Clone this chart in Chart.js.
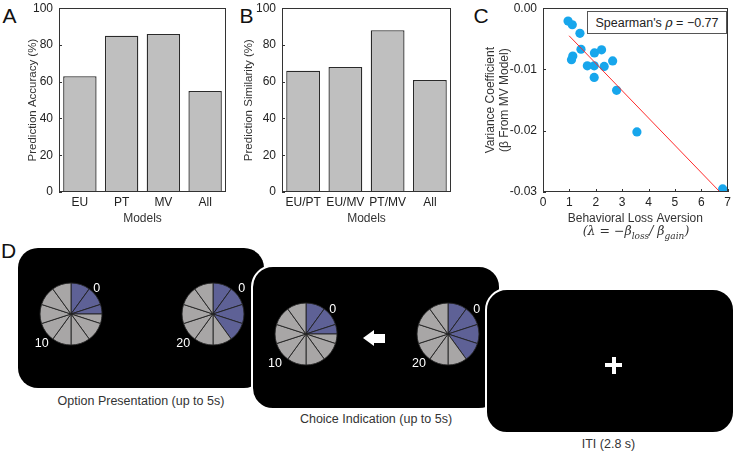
<!DOCTYPE html>
<html>
<head>
<meta charset="utf-8">
<script src="https://cdn.jsdelivr.net/npm/chart.js@4"></script>
<style>
  html, body { margin: 0; padding: 0; }
  body { width: 734px; height: 451px; overflow: hidden; position: relative; background: #fff;
         font-family: "Liberation Sans", Arial, sans-serif; }
  canvas { position: absolute; }
  .t { position: absolute; transform: translate(-50%, -50%); line-height: 1; white-space: nowrap; }
  .box { position: absolute; background: #000; box-sizing: border-box; }
</style>
</head>
<body>

<!-- Panel letters -->
<div class="t" style="left:9.5px;top:14.5px;font-size:21px;color:#111">A</div>
<div class="t" style="left:246.5px;top:14.5px;font-size:21px;color:#111">B</div>
<div class="t" style="left:481px;top:15px;font-size:21px;color:#111">C</div>
<div class="t" style="left:8.5px;top:250px;font-size:21px;color:#111">D</div>

<canvas id="cA" width="240" height="235" style="left:0;top:-5px"></canvas>
<canvas id="cB" width="260" height="235" style="left:238px;top:-5px"></canvas>
<canvas id="cC" width="258" height="235" style="left:476px;top:-5px"></canvas>

<div class="t" style="left:636px;top:233px;font-size:12.5px;color:#333;font-family:'DejaVu Serif','Liberation Serif',serif;font-style:italic">(λ = −β<sub style="font-size:9px">loss</sub>/ β<sub style="font-size:9px">gain</sub>)</div>

<div style="position:absolute;left:587px;top:11px;width:140px;height:23px;box-sizing:border-box;border:1px solid #555;background:#fff;font-size:12.5px;color:#222;text-align:center;line-height:21px;white-space:nowrap">Spearman's <i style="font-family:'DejaVu Serif','Liberation Serif',serif">ρ</i> = −0.77</div>

<!-- Panel D boxes -->
<div class="box" style="left:18px;top:248px;width:246px;height:140px;border-radius:20px"></div>
<div class="box" style="left:251px;top:265px;width:250px;height:145px;border-radius:22px;border:2px solid #fff"></div>
<div class="box" style="left:485px;top:288px;width:250px;height:146px;border-radius:22px;border:2px solid #fff"></div>

<canvas id="p1" width="64" height="64" style="left:38.7px;top:282px"></canvas>
<canvas id="p2" width="64" height="64" style="left:181.3px;top:282px"></canvas>
<canvas id="p3" width="64" height="64" style="left:274px;top:302.3px"></canvas>
<canvas id="p4" width="64" height="64" style="left:416.3px;top:302.3px"></canvas>

<div class="t" style="left:96.7px;top:288.3px;font-size:12.5px;color:#fff">0</div>
<div class="t" style="left:241.7px;top:288.3px;font-size:12.5px;color:#fff">0</div>
<div class="t" style="left:41.7px;top:343.3px;font-size:12.5px;color:#fff">10</div>
<div class="t" style="left:183.3px;top:343.3px;font-size:12.5px;color:#fff">20</div>
<div class="t" style="left:332.7px;top:309px;font-size:12.5px;color:#fff">0</div>
<div class="t" style="left:476.7px;top:309px;font-size:12.5px;color:#fff">0</div>
<div class="t" style="left:275px;top:363.3px;font-size:12.5px;color:#fff">10</div>
<div class="t" style="left:419px;top:363.3px;font-size:12.5px;color:#fff">20</div>

<!-- arrow -->
<div style="position:absolute;left:363px;top:330px;width:0;height:0;border-top:8.5px solid transparent;border-bottom:8.5px solid transparent;border-right:11px solid #fff"></div>
<div style="position:absolute;left:373px;top:334px;width:12px;height:9px;background:#fff"></div>
<!-- fixation cross -->
<div style="position:absolute;left:605px;top:363px;width:17px;height:4px;background:#fff"></div>
<div style="position:absolute;left:611.5px;top:356.5px;width:4px;height:17px;background:#fff"></div>

<div class="t" style="left:141px;top:401px;font-size:12.5px;color:#333">Option Presentation (up to 5s)</div>
<div class="t" style="left:376px;top:419px;font-size:12.5px;color:#333">Choice Indication (up to 5s)</div>
<div class="t" style="left:608.5px;top:444px;font-size:12.5px;color:#333">ITI (2.8 s)</div>

<script>
// ---------------- DATA ----------------
const accuracyModels = ['EU', 'PT', 'MV', 'All'];
const accuracyValues = [63, 85, 86, 55];

const similarityPairs = ['EU/PT', 'EU/MV', 'PT/MV', 'All'];
const similarityValues = [66, 68, 88, 61];

const percentTicks = [0, 20, 40, 60, 80, 100];

const lossAversion = [0.95, 1.11, 1.40, 1.44, 1.13, 1.08, 1.68, 1.95, 2.22, 1.94, 2.32, 2.64, 1.94, 2.79, 3.56, 6.81];
const varianceCoef = [-0.0021, -0.0027, -0.0041, -0.0067, -0.0078, -0.0084, -0.0094, -0.0073, -0.0068, -0.0094, -0.0095, -0.0086, -0.0113, -0.0134, -0.0202, -0.0295];

const fitLineX = [0.99, 6.71];
const fitLineY = [-0.0045, -0.0300];

// Pie stimuli: slice sizes (degrees) and number of leading slices for the "0" outcome
const pieLeftSlices = [36, 36, 18, 18, 36, 36, 36, 36, 36, 36, 36];
const pieLeftZeroSlices = 3;
const pieRightSlices = [36, 36, 36, 36, 36, 36, 36, 36, 36, 36];
const pieRightZeroSlices = 4;

// ---------------- STYLE ----------------
Chart.defaults.font.family = '"Liberation Sans", Arial, sans-serif';
Chart.defaults.font.size = 12;
Chart.defaults.color = '#333';
Chart.defaults.animation = false;

const AXIS = '#333';
const BAR_FILL = '#bfbfbf';
const BAR_EDGE = '#2a2a2a';

const framePlugin = {
  id: 'frame',
  afterDraw(chart, args, opts) {
    const {ctx, chartArea: a} = chart;
    ctx.save();
    ctx.strokeStyle = AXIS;
    ctx.lineWidth = 1;
    ctx.strokeRect(Math.round(a.left) + 0.5, Math.round(a.top) + 0.5,
                   Math.round(a.right - a.left) - 1, Math.round(a.bottom - a.top) - 1);
    // inside tick marks
    const L = 3;
    const y = chart.scales.y;
    ctx.beginPath();
    y.ticks.forEach(t => {
      const py = Math.round(y.getPixelForValue(t.value)) + 0.5;
      ctx.moveTo(a.left, py); ctx.lineTo(a.left + L, py);
    });
    if (opts && opts.xTicks) {
      const x = chart.scales.x;
      x.ticks.forEach(t => {
        const px = Math.round(x.getPixelForValue(t.value)) + 0.5;
        ctx.moveTo(px, a.bottom); ctx.lineTo(px, a.bottom - L);
      });
    }
    ctx.stroke();
    ctx.restore();
  }
};

function barChart(id, labels, values, yTitle, pad, yWidth) {
  return new Chart(document.getElementById(id), {
    type: 'bar',
    data: {
      labels: labels,
      datasets: [{
        data: values,
        backgroundColor: BAR_FILL,
        borderColor: BAR_EDGE,
        borderWidth: 1.3,
        barPercentage: 0.8,
        categoryPercentage: 1.0
      }]
    },
    options: {
      responsive: false,
      animation: false,
      layout: { padding: pad },
      plugins: { legend: { display: false }, tooltip: { enabled: false }, frame: {} },
      scales: {
        x: {
          grid: { display: false, drawTicks: false },
          border: { display: false },
          ticks: { padding: 3, maxRotation: 0, autoSkip: false, color: '#222' },
          title: { display: true, text: 'Models', color: '#333', padding: { top: 4, bottom: 4 } },
          afterFit: s => { s.height = 38; }
        },
        y: {
          min: 0, max: 100,
          afterBuildTicks: s => { s.ticks = percentTicks.map(v => ({ value: v })); },
          grid: { display: false, drawTicks: false },
          border: { display: false },
          ticks: { padding: 6, color: '#222' },
          title: { display: true, text: yTitle, color: '#333', font: { size: 11.5 }, padding: { top: 4, bottom: 4 } },
          afterFit: s => { s.width = yWidth; }
        }
      }
    },
    plugins: [framePlugin]
  });
}

barChart('cA', accuracyModels, accuracyValues, 'Prediction Accuracy (%)', { left: 22, top: 10, right: 14, bottom: 0 }, 37);
barChart('cB', similarityPairs, similarityValues, 'Prediction Similarity (%)', { left: 0, top: 10, right: 47, bottom: 0 }, 44);

new Chart(document.getElementById('cC'), {
  type: 'scatter',
  data: {
    datasets: [
      {
        type: 'line',
        data: fitLineX.map((x, i) => ({ x: x, y: fitLineY[i] })),
        borderColor: '#ff2b2b',
        borderWidth: 1,
        pointRadius: 0,
        fill: false,
        order: 0
      },
      {
        data: lossAversion.map((x, i) => ({ x: x, y: varianceCoef[i] })),
        backgroundColor: '#17a6ec',
        borderWidth: 0,
        pointRadius: 4.6,
        order: 1
      }
    ]
  },
  options: {
    responsive: false,
    animation: false,
    layout: { padding: { left: 3, top: 10, right: 6, bottom: 0 } },
    plugins: { legend: { display: false }, tooltip: { enabled: false }, frame: { xTicks: true } },
    scales: {
      x: {
        type: 'linear', min: 0, max: 7,
        ticks: { stepSize: 1, padding: 3, color: '#222' },
        grid: { display: false, drawTicks: false },
        border: { display: false },
        title: { display: true, text: 'Behavioral Loss Aversion', color: '#333', padding: { top: 4, bottom: 4 } },
        afterFit: s => { s.height = 38; }
      },
      y: {
        type: 'linear', min: -0.03, max: 0,
        ticks: { stepSize: 0.01, padding: 6, color: '#222',
                 callback: v => (Math.abs(v) < 1e-9 ? 0 : v).toFixed(2) },
        grid: { display: false, drawTicks: false },
        border: { display: false },
        title: { display: true, text: ['Variance Coefficient', '(β From MV Model)'], color: '#333', padding: { top: 4, bottom: 4 } },
        afterFit: s => { s.width = 64; }
      }
    }
  },
  plugins: [framePlugin]
});

// ---------------- PIES ----------------
const PIE_ZERO = '#5e6196';
const PIE_WIN = '#a8a6a6';
function pie(id, slices, zeroCount) {
  new Chart(document.getElementById(id), {
    type: 'pie',
    data: {
      datasets: [{
        data: slices,
        backgroundColor: slices.map((_, i) => i < zeroCount ? PIE_ZERO : PIE_WIN),
        borderColor: '#222',
        borderWidth: 0.9
      }]
    },
    options: {
      responsive: false,
      animation: false,
      radius: 31,
      layout: { padding: 0 },
      plugins: { legend: { display: false }, tooltip: { enabled: false } }
    }
  });
}
pie('p1', pieLeftSlices, pieLeftZeroSlices);
pie('p2', pieRightSlices, pieRightZeroSlices);
pie('p3', pieLeftSlices, pieLeftZeroSlices);
pie('p4', pieRightSlices, pieRightZeroSlices);
</script>
</body>
</html>
